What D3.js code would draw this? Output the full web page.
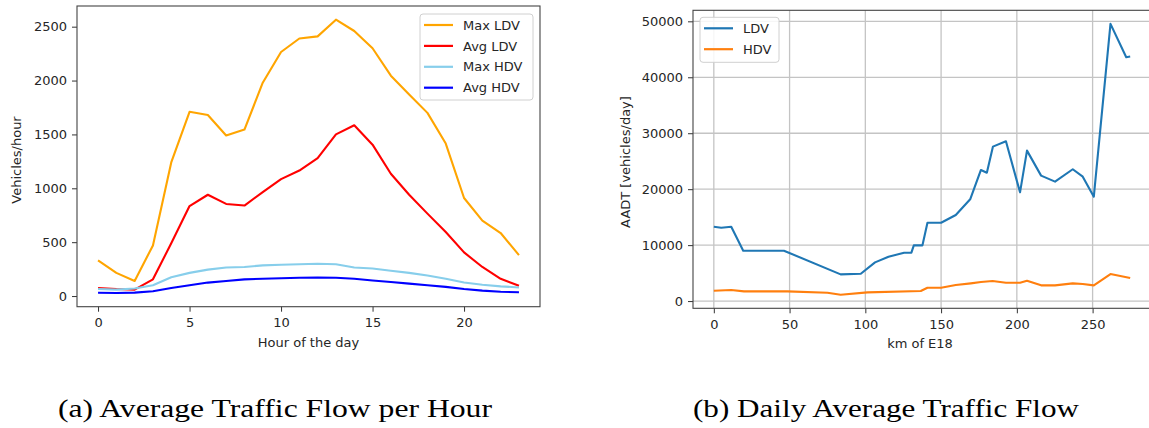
<!DOCTYPE html>
<html>
<head>
<meta charset="utf-8">
<script src="https://cdn.jsdelivr.net/npm/d3@7"></script>
<style>
  body { margin: 0; background: #fff; }
  svg { display: block; }
  .tick text { font-family: 'DejaVu Sans', sans-serif; font-size: 13px; fill: #262626; }
  .tick line { stroke: #333; }
  .domain { display: none; }
  .axis-label { font-family: 'DejaVu Sans', sans-serif; font-size: 13px; fill: #262626; }
  .legend-label { font-family: 'DejaVu Sans', sans-serif; font-size: 13px; fill: #262626; }
  .caption { font-family: 'Liberation Serif', serif; font-size: 26px; fill: #000; }
</style>
</head>
<body>
<svg width="1149" height="428"></svg>
<script>
// (a) hourly traffic
const hours = d3.range(24);
const maxLDV = [330, 215, 140, 470, 1240, 1710, 1680, 1490, 1545, 1980, 2265, 2390, 2410, 2565, 2460, 2300, 2045, 1870, 1700, 1415, 910, 700, 585, 380];
const avgLDV = [75, 65, 60, 155, 490, 835, 940, 855, 840, 965, 1085, 1165, 1280, 1500, 1585, 1405, 1135, 940, 765, 595, 405, 270, 160, 95];
const maxHDV = [65, 60, 70, 100, 175, 215, 245, 265, 270, 285, 290, 295, 300, 295, 265, 255, 235, 215, 190, 160, 125, 105, 90, 80];
const avgHDV = [30, 28, 32, 45, 75, 100, 125, 140, 155, 160, 165, 170, 172, 170, 160, 145, 130, 115, 100, 85, 65, 50, 40, 35];
const hourTicks = [0, 5, 10, 15, 20];
const hourlyTicksY = [0, 500, 1000, 1500, 2000, 2500];

// (b) AADT along E18
const kmLDV = [0, 4.9, 11.5, 19.4, 46.3, 83.7, 97, 106.4, 115.3, 125.6, 130.4, 132, 137.7, 141, 150, 159.7, 169.2, 176.3, 180.2, 184.2, 192.8, 202.1, 206.7, 216, 225.2, 236.9, 243.5, 250.8, 261.8, 272.2, 274.8];
const LDV = [13290, 13110, 13290, 9000, 9000, 4770, 4890, 6920, 7930, 8650, 8650, 9960, 9960, 14000, 14000, 15380, 18190, 23430, 22950, 27600, 28570, 19440, 26890, 22420, 21350, 23560, 22240, 18660, 49550, 43590, 43700];
const kmHDV = [0, 11.5, 19.9, 48.5, 75, 83.7, 101.4, 136.6, 141, 150, 159.7, 169.6, 176.3, 184, 192.8, 202.1, 206.7, 216, 225.2, 236.9, 243.5, 250.8, 261.8, 274.8];
const HDV = [1840, 1970, 1730, 1730, 1490, 1130, 1550, 1790, 2380, 2380, 2860, 3160, 3400, 3580, 3280, 3280, 3640, 2810, 2810, 3160, 3040, 2810, 4830, 4110];
const kmTicks = [0, 50, 100, 150, 200, 250];
const aadtTicks = [0, 10000, 20000, 30000, 40000, 50000];

const svg = d3.select('svg');

// matplotlib style 5% margins
const padded = ext => {
  const m = (ext[1] - ext[0]) * 0.05;
  return [ext[0] - m, ext[1] + m];
};

const drawAxes = (box, x, y, xt, yt, grid) => {
  const g = svg.append('g');
  if (grid) {
    g.append('g').selectAll('line').data(xt).enter().append('line')
      .attr('x1', d => x(d)).attr('x2', d => x(d))
      .attr('y1', box.top).attr('y2', box.bottom)
      .attr('stroke', '#c4c4c4').attr('stroke-width', 1.3);
    g.append('g').selectAll('line').data(yt).enter().append('line')
      .attr('x1', box.left).attr('x2', box.right)
      .attr('y1', d => y(d)).attr('y2', d => y(d))
      .attr('stroke', '#c4c4c4').attr('stroke-width', 1.3);
  }
  g.append('g')
    .attr('transform', `translate(0,${box.bottom})`)
    .call(d3.axisBottom(x).tickValues(xt).tickSize(5).tickPadding(6).tickFormat(d3.format('d')));
  g.append('g')
    .attr('transform', `translate(${box.left},0)`)
    .call(d3.axisLeft(y).tickValues(yt).tickSize(5).tickPadding(5).tickFormat(d3.format('d')));
  return g;
};

const drawFrame = box => {
  svg.append('rect')
    .attr('x', box.left).attr('y', box.top)
    .attr('width', box.right - box.left).attr('height', box.bottom - box.top)
    .attr('fill', 'none').attr('stroke', '#444').attr('stroke-width', 1.1);
};

const drawLegend = (x0, y0, w, h, items) => {
  const lg = svg.append('g').attr('transform', `translate(${x0},${y0})`);
  lg.append('rect')
    .attr('width', w).attr('height', h).attr('rx', 3)
    .attr('fill', '#fff').attr('fill-opacity', 0.85)
    .attr('stroke', '#d0d0d0');
  items.forEach((it, i) => {
    const cy = 11 + i * 20.9;
    lg.append('line')
      .attr('x1', 4).attr('x2', 33).attr('y1', cy).attr('y2', cy)
      .attr('stroke', it.color).attr('stroke-width', 2.2);
    lg.append('text')
      .attr('class', 'legend-label')
      .attr('x', 43).attr('y', cy).attr('dy', '0.36em')
      .text(it.label);
  });
};

// ---------- chart (a)
const boxA = {left: 77, right: 540, top: 6, bottom: 306.7};
const xA = d3.scaleLinear().domain(padded(d3.extent(hours))).range([boxA.left, boxA.right]);
const yA = d3.scaleLinear()
  .domain(padded(d3.extent([].concat(maxLDV, avgLDV, maxHDV, avgHDV))))
  .range([boxA.bottom, boxA.top]);

drawAxes(boxA, xA, yA, hourTicks, hourlyTicksY, false);

const hourSeries = [
  {label: 'Max LDV', color: 'orange', values: maxLDV},
  {label: 'Avg LDV', color: 'red', values: avgLDV},
  {label: 'Max HDV', color: 'skyblue', values: maxHDV},
  {label: 'Avg HDV', color: 'blue', values: avgHDV}
];

const lineA = d3.line().x((d, i) => xA(hours[i])).y(d => yA(d));
svg.append('g').selectAll('path')
  .data(hourSeries)
  .enter()
  .append('path')
  .attr('d', d => lineA(d.values))
  .attr('fill', 'none')
  .attr('stroke', d => d.color)
  .attr('stroke-width', 2.1)
  .attr('stroke-linejoin', 'round');

drawFrame(boxA);
drawLegend(420, 14, 113, 86, hourSeries);

svg.append('text').attr('class', 'axis-label')
  .attr('transform', 'translate(21,160) rotate(-90)')
  .attr('text-anchor', 'middle')
  .text('Vehicles/hour');
svg.append('text').attr('class', 'axis-label')
  .attr('x', (boxA.left + boxA.right) / 2).attr('y', 347)
  .attr('text-anchor', 'middle')
  .text('Hour of the day');

// ---------- chart (b)
const boxB = {left: 693, right: 1151, top: 10.3, bottom: 308.3};
const xB = d3.scaleLinear().domain(padded(d3.extent([].concat(kmLDV, kmHDV)))).range([boxB.left, boxB.right]);
const yB = d3.scaleLinear().domain(padded(d3.extent([].concat(LDV, HDV)))).range([boxB.bottom, boxB.top]);

drawAxes(boxB, xB, yB, kmTicks, aadtTicks, true);

const roadSeries = [
  {label: 'LDV', color: '#1f77b4', km: kmLDV, values: LDV},
  {label: 'HDV', color: '#ff7f0e', km: kmHDV, values: HDV}
];

svg.append('g').selectAll('path')
  .data(roadSeries)
  .enter()
  .append('path')
  .attr('d', s => d3.line().x((d, i) => xB(s.km[i])).y(d => yB(d))(s.values))
  .attr('fill', 'none')
  .attr('stroke', s => s.color)
  .attr('stroke-width', 2.1)
  .attr('stroke-linejoin', 'round');

drawFrame(boxB);
drawLegend(700, 17.3, 79, 45, roadSeries);

svg.append('text').attr('class', 'axis-label')
  .attr('transform', 'translate(630,162) rotate(-90)')
  .attr('text-anchor', 'middle')
  .text('AADT [vehicles/day]');
svg.append('text').attr('class', 'axis-label')
  .attr('x', 920).attr('y', 348)
  .attr('text-anchor', 'middle')
  .text('km of E18');

// ---------- captions
svg.append('text').attr('class', 'caption')
  .attr('x', 58).attr('y', 417)
  .attr('textLength', 434).attr('lengthAdjust', 'spacingAndGlyphs')
  .text('(a) Average Traffic Flow per Hour');
svg.append('text').attr('class', 'caption')
  .attr('x', 693).attr('y', 417)
  .attr('textLength', 386).attr('lengthAdjust', 'spacingAndGlyphs')
  .text('(b) Daily Average Traffic Flow');
</script>
</body>
</html>
